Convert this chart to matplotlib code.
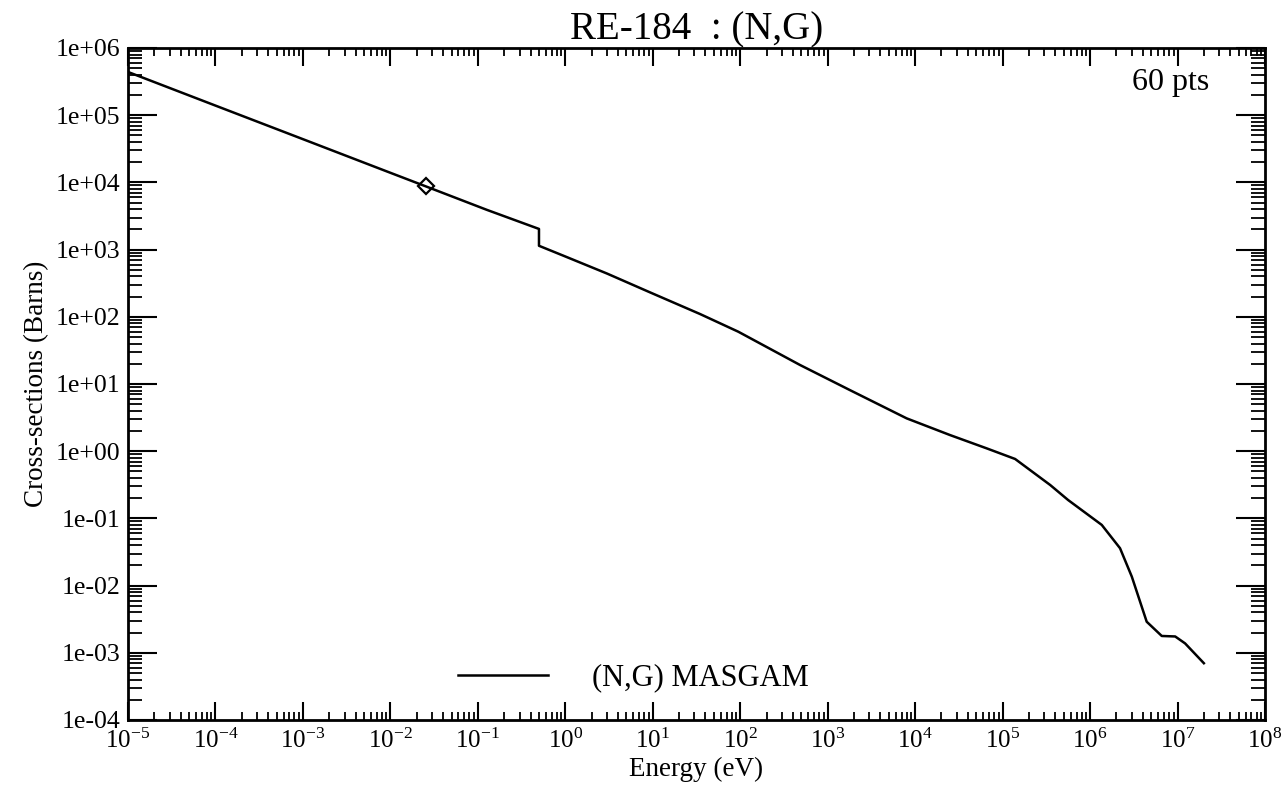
import matplotlib
matplotlib.use("Agg")
import matplotlib.pyplot as plt
from matplotlib import ticker

# ---- data ----
energy_ev = [1e-5, 1e-4, 1e-3, 1e-2, 0.0253, 0.127, 0.5, 0.5, 1.0, 3.0, 9.3, 34.7,
             95, 482, 1.8e3, 8e3, 2.5e4, 6.6e4, 1.39e5, 3.5e5, 5.6e5, 1.36e6,
             2.2e6, 3.0e6, 4.44e6, 6.6e6, 9.4e6, 1.22e7, 2.0e7]
xs_barns = [4.4e5, 1.39e5, 4.4e4, 1.39e4, 8.75e3, 3.9e3, 2.03e3, 1.14e3, 790, 440,
            231, 110, 60, 19.2, 8.1, 3.08, 1.74, 1.1, 0.766, 0.314, 0.188, 0.08,
            0.036, 0.0136, 0.0029, 0.00178, 0.00175, 0.00138, 0.0007]
thermal_e = [0.0253]
thermal_xs = [8.75e3]
x_ticks = [1e-5, 1e-4, 1e-3, 1e-2, 1e-1, 1e0, 1e1, 1e2, 1e3, 1e4, 1e5, 1e6, 1e7, 1e8]
x_labels = [r"$10^{-5}$", r"$10^{-4}$", r"$10^{-3}$", r"$10^{-2}$", r"$10^{-1}$",
            r"$10^{0}$", r"$10^{1}$", r"$10^{2}$", r"$10^{3}$", r"$10^{4}$",
            r"$10^{5}$", r"$10^{6}$", r"$10^{7}$", r"$10^{8}$"]
y_ticks = [1e-4, 1e-3, 1e-2, 1e-1, 1e0, 1e1, 1e2, 1e3, 1e4, 1e5, 1e6]
y_labels = ["1e-04", "1e-03", "1e-02", "1e-01", "1e+00", "1e+01", "1e+02",
            "1e+03", "1e+04", "1e+05", "1e+06"]
title = "RE-184  : (N,G)"
legend_label = "(N,G) MASGAM"
npts_text = "60 pts"

plt.rcParams["font.family"] = ["Liberation Serif", "DejaVu Serif"]
plt.rcParams["mathtext.fontset"] = "custom"
plt.rcParams["mathtext.rm"] = "Liberation Serif"
plt.rcParams["mathtext.it"] = "Liberation Serif"
plt.rcParams["mathtext.default"] = "rm"

W, H = 1286, 785
fig = plt.figure(figsize=(W / 100, H / 100), dpi=100)
L, R, T, B = 128, 1265, 48, 720
ax = fig.add_axes([L / W, 1 - B / H, (R - L) / W, (B - T) / H])

ax.plot(energy_ev, xs_barns, color="black", lw=1.8, label=legend_label)
ax.plot(thermal_e, thermal_xs, linestyle="none", marker="D", markersize=8,
        markerfacecolor="none", markeredgecolor="black", markeredgewidth=1.6)

ax.set_xscale("log")
ax.set_yscale("log")
ax.set_xlim(1e-5, 1e8)
ax.set_ylim(1e-4, 1e6)

ax.xaxis.set_major_locator(ticker.FixedLocator(x_ticks))
ax.set_xticklabels(x_labels)
ax.yaxis.set_major_locator(ticker.FixedLocator(y_ticks))
ax.set_yticklabels(y_labels)
ax.xaxis.set_minor_locator(ticker.LogLocator(base=10, subs=range(2, 10), numticks=100))
ax.yaxis.set_minor_locator(ticker.LogLocator(base=10, subs=range(2, 10), numticks=100))
ax.xaxis.set_minor_formatter(ticker.NullFormatter())
ax.yaxis.set_minor_formatter(ticker.NullFormatter())

ax.tick_params(axis="x", which="major", direction="in", top=True, bottom=True,
               length=13, width=1.5, labelsize=18, pad=6)
ax.tick_params(axis="x", which="minor", direction="in", top=True, bottom=True,
               length=6, width=1.3)
ax.tick_params(axis="y", which="major", direction="in", left=True, right=True,
               length=21, width=1.5, labelsize=18.5, pad=5.5)
ax.tick_params(axis="y", which="minor", direction="in", left=True, right=True,
               length=10, width=1.3)
for s in ax.spines.values():
    s.set_linewidth(2)

ax.set_title(title, fontsize=28, pad=1)
ax.set_xlabel("Energy (eV)", fontsize=19.5, labelpad=3)
ax.set_ylabel("Cross-sections (Barns)", fontsize=19.5, labelpad=5)

ax.text(0.951, 0.948, npts_text, transform=ax.transAxes, ha="right", va="center",
        fontsize=23)

leg = ax.legend(loc="center left", bbox_to_anchor=((458 - L) / (R - L), (B - 678) / (B - T)),
                frameon=False, fontsize=22, handlelength=2.95, handletextpad=1.45,
                borderpad=0, borderaxespad=0)

fig.savefig("out.png", dpi=100)
